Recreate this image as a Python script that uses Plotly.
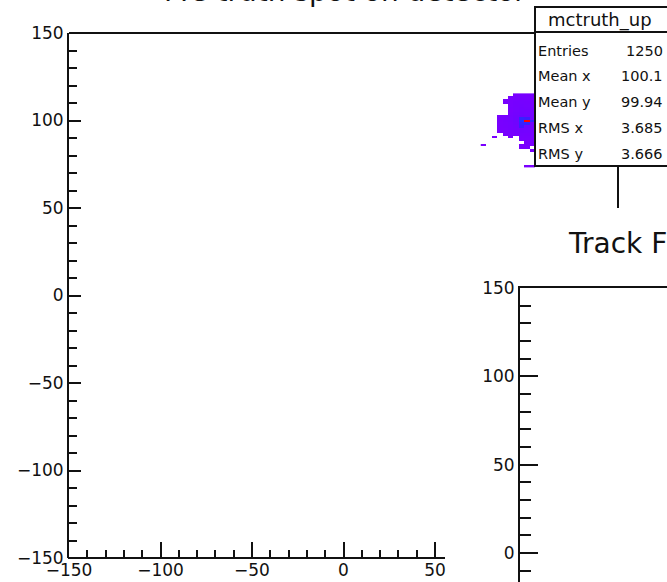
import plotly.graph_objects as go

# ---------------- data ----------------
HIST_NAME = "mctruth_up"
LEFT_TITLE = "MC truth spot on detector"
RIGHT_TITLE = "Track Fit position"

STAT_LABELS = ["Entries", "Mean x", "Mean y", "RMS x", "RMS y"]
STAT_VALUES = ["1250", "100.1", "99.94", "3.685", "3.666"]

# 2D histogram bins (bin centres) and counts around the spot (0 = empty bin)
X_BINS = [76.5, 79.5, 82.5, 85.5, 88.5, 91.5, 94.5, 97.5, 100.5, 103.5, 106.5]
Y_BINS = [114.75, 113.25, 111.75, 110.25, 108.75, 107.25, 105.75, 104.25,
          102.75, 101.25, 99.75, 98.25, 96.75, 95.25, 93.75, 92.25, 90.75,
          89.25, 87.75, 86.25, 84.75, 83.25, 81.75, 80.25, 78.75, 77.25,
          75.75, 74.25]
COUNTS = [
    [0, 0, 0, 0, 0, 0, 2, 3, 2, 3, 1],
    [0, 0, 0, 0, 0, 2, 3, 4, 3, 2, 1],
    [0, 0, 0, 0, 1, 3, 4, 5, 4, 3, 2],
    [0, 0, 0, 0, 2, 3, 5, 6, 5, 4, 2],
    [0, 0, 0, 0, 0, 3, 5, 7, 6, 4, 2],
    [0, 0, 0, 0, 0, 4, 6, 8, 7, 5, 3],
    [0, 0, 0, 0, 0, 2, 6, 9, 8, 5, 3],
    [0, 0, 0, 0, 0, 4, 7, 10, 9, 6, 3],
    [0, 0, 0, 2, 3, 5, 8, 14, 12, 7, 4],
    [0, 0, 0, 3, 4, 6, 10, 70, 60, 9, 4],
    [0, 0, 0, 2, 5, 7, 12, 80, 400, 65, 5],
    [0, 0, 0, 3, 4, 6, 10, 65, 70, 10, 4],
    [0, 0, 0, 2, 4, 5, 9, 55, 12, 8, 3],
    [0, 0, 0, 2, 3, 5, 7, 10, 9, 6, 3],
    [0, 0, 0, 1, 3, 4, 6, 8, 7, 5, 2],
    [0, 0, 0, 0, 2, 3, 4, 6, 5, 4, 2],
    [0, 0, 1, 0, 0, 2, 0, 4, 4, 3, 1],
    [0, 0, 0, 0, 0, 0, 0, 3, 3, 2, 1],
    [0, 0, 0, 0, 0, 0, 0, 0, 2, 1, 0],
    [1, 0, 0, 0, 0, 0, 0, 2, 2, 1, 0],
    [0, 0, 0, 0, 0, 0, 0, 1, 2, 0, 0],
    [0, 0, 0, 0, 0, 0, 0, 0, 0, 1, 0],
    [0, 0, 0, 0, 0, 0, 0, 0, 0, 0, 0],
    [0, 0, 0, 0, 0, 0, 0, 0, 0, 0, 0],
    [0, 0, 0, 0, 0, 0, 0, 0, 0, 0, 0],
    [0, 0, 0, 0, 0, 0, 0, 0, 0, 0, 0],
    [0, 0, 0, 0, 0, 0, 0, 0, 0, 0, 0],
    [0, 0, 0, 0, 0, 0, 0, 0, 1, 1, 0],
]

LEFT_X_TICKS = [-150, -100, -50, 0, 50]
LEFT_X_MINOR = [v for v in range(-140, 50, 10) if v % 50 != 0]
LEFT_Y_TICKS = [-150, -100, -50, 0, 50, 100, 150]
RIGHT_Y_TICKS = [0, 50, 100, 150]
RIGHT_Y_MINOR = [v for v in range(-10, 150, 10) if v % 50 != 0]

# ---------------- layout geometry (pixels) ----------------
W, H = 667, 582
FL, FR, FT, FB = 69, 618, 33, 558          # left frame
P2L, P2T = 445, 208                        # right pad corner (covers left frame)
R_AX, R_TOP = 520, 288                     # right pad frame
R_YMIN = -16.5                             # value at bottom edge of canvas
SB_L, SB_T, SB_D, SB_B = 535, 7, 32, 166   # stats box


def px(x):
    return x / W


def py(y):
    return 1 - y / H


INK = "#111111"
FONT = "DejaVu Sans"

z = [[(c if c > 0 else None) for c in row] for row in COUNTS]
zmax = max(max(r) for r in COUNTS)

colorscale = [
    [0.0, "#7a00ff"], [0.12, "#4a10ff"], [0.25, "#1040ff"],
    [0.4, "#00c0ff"], [0.55, "#00ff60"], [0.75, "#ffff00"],
    [0.9, "#ff8000"], [1.0, "#ff0000"],
]

fig = go.Figure()
fig.add_trace(go.Heatmap(
    x=X_BINS, y=Y_BINS, z=z, zmin=1, zmax=zmax,
    colorscale=colorscale, showscale=False, hoverinfo="skip",
    xaxis="x", yaxis="y",
))
fig.add_trace(go.Scatter(x=[], y=[], xaxis="x2", yaxis="y2",
                         mode="markers", showlegend=False))

tickfont = dict(family=FONT, size=17, color=INK)

fig.update_layout(
    width=W, height=H,
    margin=dict(l=0, r=0, t=0, b=0, pad=0, autoexpand=False),
    paper_bgcolor="white", plot_bgcolor="rgba(0,0,0,0)",
    showlegend=False,
    xaxis=dict(
        domain=[px(FL), px(FR)], range=[-150, 150], anchor="y",
        automargin=False,
        showline=False, showgrid=False, zeroline=False,
        tickmode="array", tickvals=LEFT_X_TICKS,
        ticks="inside", ticklen=16, tickwidth=2, tickcolor=INK,
        minor=dict(tickmode="array", tickvals=LEFT_X_MINOR, ticks="inside",
                   ticklen=8, tickwidth=2, tickcolor=INK, showgrid=False),
        tickfont=tickfont,
    ),
    yaxis=dict(
        domain=[py(FB), py(FT)], range=[-150, 150], anchor="x",
        automargin=False,
        showline=True, linewidth=2, linecolor=INK,
        showgrid=False, zeroline=False,
        tickmode="array", tickvals=LEFT_Y_TICKS,
        ticks="inside", ticklen=12, tickwidth=2, tickcolor=INK,
        minor=dict(dtick=10, tick0=0, ticks="inside", ticklen=8,
                   tickwidth=2, tickcolor=INK, showgrid=False),
        tickfont=tickfont,
    ),
    xaxis2=dict(
        domain=[px(R_AX), 1], range=[-150, 150], anchor="y2", side="top",
        automargin=False,
        showline=True, linewidth=2, linecolor=INK,
        showgrid=False, zeroline=False, ticks="", showticklabels=False,
    ),
    yaxis2=dict(
        domain=[0, py(R_TOP)], range=[R_YMIN, 150], anchor="x2",
        automargin=False,
        showline=True, linewidth=2, linecolor=INK,
        showgrid=False, zeroline=False,
        tickmode="array", tickvals=RIGHT_Y_TICKS,
        ticks="inside", ticklen=18, tickwidth=2, tickcolor=INK,
        minor=dict(tickmode="array", tickvals=RIGHT_Y_MINOR, ticks="inside",
                   ticklen=11, tickwidth=2, tickcolor=INK, showgrid=False),
        tickfont=tickfont,
    ),
)

line = dict(color=INK, width=2)
shapes = [
    # left frame: top, right (until the right pad) and bottom (until the right pad)
    dict(type="line", xref="paper", yref="paper", x0=px(FL), x1=px(FR),
         y0=py(FT), y1=py(FT), line=line, layer="above"),
    dict(type="line", xref="paper", yref="paper", x0=px(FR), x1=px(FR),
         y0=py(FT), y1=py(P2T), line=line, layer="above"),
    dict(type="line", xref="paper", yref="paper", x0=px(FL - 1), x1=px(P2L),
         y0=py(FB), y1=py(FB), line=line, layer="above"),
    # stats box
    dict(type="rect", xref="paper", yref="paper", x0=px(SB_L), x1=1.02,
         y0=py(SB_B), y1=py(SB_T), fillcolor="white", line=line, layer="above"),
    dict(type="line", xref="paper", yref="paper", x0=px(SB_L), x1=1.02,
         y0=py(SB_D), y1=py(SB_D), line=line, layer="above"),
]
fig.update_layout(shapes=shapes)

ann = []
ann.append(dict(text=HIST_NAME, xref="paper", yref="paper", x=px(600),
                y=py((SB_T + SB_D) / 2 + 1), xanchor="center", yanchor="middle",
                showarrow=False, font=dict(family=FONT, size=18, color=INK)))
for i, (lab, val) in enumerate(zip(STAT_LABELS, STAT_VALUES)):
    yc = py(50.7 + i * 25.8)
    ann.append(dict(text=lab, xref="paper", yref="paper", x=px(536), y=yc,
                    xanchor="left", yanchor="middle", showarrow=False,
                    font=dict(family=FONT, size=14.5, color=INK)))
    ann.append(dict(text=val, xref="paper", yref="paper", x=px(665), y=yc,
                    xanchor="right", yanchor="middle", showarrow=False,
                    font=dict(family=FONT, size=14.5, color=INK)))
# pad titles
ann.append(dict(text=LEFT_TITLE, xref="paper", yref="paper", x=px(345),
                y=py(10), xanchor="center", yanchor="bottom", showarrow=False,
                font=dict(family=FONT, size=28, color=INK)))
ann.append(dict(text=RIGHT_TITLE, xref="paper", yref="paper", x=px(566),
                y=py(243), xanchor="left", yanchor="middle", showarrow=False,
                font=dict(family=FONT, size=28, color=INK)))
fig.update_layout(annotations=ann)

fig.write_html("out.html")
